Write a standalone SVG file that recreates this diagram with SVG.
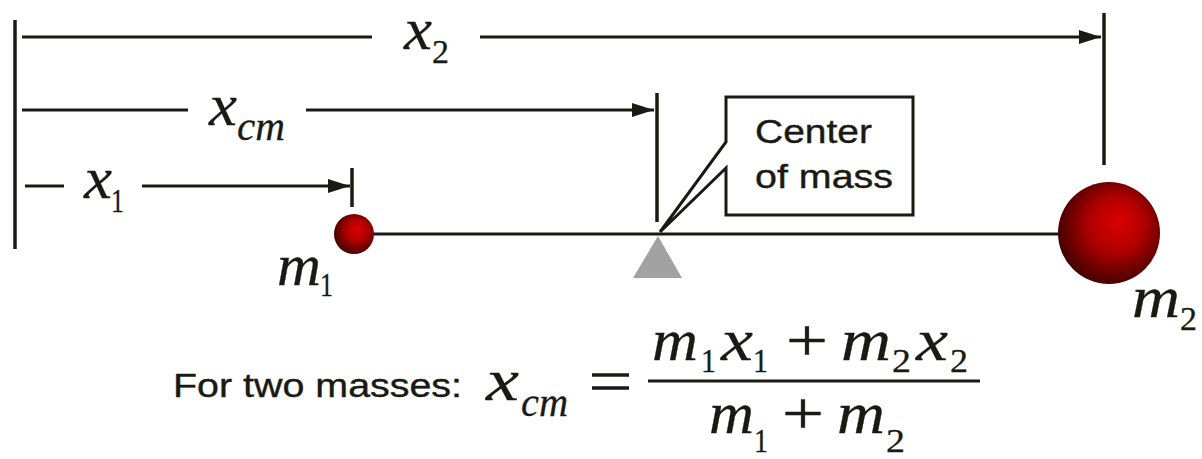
<svg xmlns="http://www.w3.org/2000/svg" width="1202" height="459" viewBox="0 0 1202 459">
<style>
.ln{stroke:#1a1a14;stroke-width:3;fill:none}
.vl{stroke:#1a1a14;stroke-width:3.5;fill:none}
.mi{font-family:"Liberation Serif","Times New Roman",serif;font-style:italic;font-size:59px;fill:#1a1a14;stroke:#1a1a14;stroke-width:0.3}
.sd{font-family:"Liberation Serif","Times New Roman",serif;font-size:34px;fill:#1a1a14;stroke:#1a1a14;stroke-width:0.3}
.si{font-family:"Liberation Serif","Times New Roman",serif;font-style:italic;font-size:40px;fill:#1a1a14;stroke:#1a1a14;stroke-width:0.3}
.op{font-family:"Liberation Serif","Times New Roman",serif;font-size:60px;fill:#1a1a14;stroke:#1a1a14;stroke-width:0.4}
.tx{font-family:"Liberation Sans",Arial,sans-serif;font-size:34px;fill:#1a1a14;stroke:#1a1a14;stroke-width:0.4}
</style>
<defs>
<marker id="ah" markerUnits="userSpaceOnUse" markerWidth="22" markerHeight="14" refX="22" refY="7" orient="auto">
<path d="M0,0 L22,7 L0,14 z" fill="#1a1a14"/>
</marker>
<radialGradient id="ball" cx="0.55" cy="0.45" r="0.6" fx="0.6" fy="0.38">
<stop offset="0" stop-color="#dc0000"/>
<stop offset="0.45" stop-color="#b00000"/>
<stop offset="1" stop-color="#380000"/>
</radialGradient>
</defs>
<rect width="1202" height="459" fill="#ffffff"/>

<g id="connectors">
<line class="vl" x1="15" y1="20" x2="15" y2="249"/>
<line class="ln" x1="22" y1="37" x2="372" y2="37"/>
<line class="ln" x1="480" y1="37" x2="1101" y2="37" marker-end="url(#ah)"/>
<line class="vl" x1="1104" y1="13" x2="1104" y2="165"/>
<line class="ln" x1="22" y1="110" x2="188" y2="110"/>
<line class="ln" x1="306" y1="110" x2="654" y2="110" marker-end="url(#ah)"/>
<line class="vl" x1="657" y1="93" x2="657" y2="222"/>
<line class="ln" x1="25" y1="186" x2="64" y2="186"/>
<line class="ln" x1="142" y1="186" x2="350" y2="186" marker-end="url(#ah)"/>
<line class="vl" x1="352" y1="168" x2="352" y2="207"/>
<line id="beam" class="ln" x1="372" y1="234" x2="1060" y2="234"/>
</g>

<g id="label-x2">
<text class="mi" x="404" y="49" textLength="28" lengthAdjust="spacingAndGlyphs">x</text>
<text class="sd" x="432" y="63" textLength="17" lengthAdjust="spacingAndGlyphs">2</text>
</g>
<g id="label-xcm">
<text class="mi" x="209" y="125" textLength="28" lengthAdjust="spacingAndGlyphs">x</text>
<text class="si" x="237" y="140" textLength="48" lengthAdjust="spacingAndGlyphs">cm</text>
</g>
<g id="label-x1">
<text class="mi" x="84" y="198" textLength="28" lengthAdjust="spacingAndGlyphs">x</text>
<text class="sd" x="111" y="212" textLength="13" lengthAdjust="spacingAndGlyphs">1</text>
</g>

<g id="mass1">
<circle cx="354" cy="234" r="20" fill="url(#ball)"/>
<text class="mi" x="277" y="285" textLength="44" lengthAdjust="spacingAndGlyphs">m</text>
<text class="sd" x="320" y="296" textLength="13" lengthAdjust="spacingAndGlyphs">1</text>
</g>

<g id="mass2">
<circle cx="1109" cy="233" r="51" fill="url(#ball)"/>
<text class="mi" x="1132" y="317" textLength="48" lengthAdjust="spacingAndGlyphs">m</text>
<text class="sd" x="1180" y="330" textLength="17" lengthAdjust="spacingAndGlyphs">2</text>
</g>

<g id="fulcrum">
<polygon points="658,236 682,278 633,278" fill="#a2a2a2"/>
</g>

<g id="callout">
<polygon points="726,97 913,97 913,215 726,215 726,168 660,232 726,142" fill="#ffffff" stroke="#1a1a14" stroke-width="3" stroke-linejoin="miter"/>
<text class="tx" x="755" y="143" textLength="117" lengthAdjust="spacingAndGlyphs">Center</text>
<text class="tx" x="755" y="188" textLength="138" lengthAdjust="spacingAndGlyphs">of mass</text>
</g>

<g id="formula">
<text class="tx" x="173" y="397" textLength="289" lengthAdjust="spacingAndGlyphs">For two masses:</text>
<text class="mi" x="486" y="400" textLength="33" lengthAdjust="spacingAndGlyphs">x</text>
<text class="si" x="521" y="416" textLength="47" lengthAdjust="spacingAndGlyphs">cm</text>
<line x1="592" y1="375" x2="629" y2="375" stroke="#1a1a14" stroke-width="3.5"/>
<line x1="592" y1="388" x2="629" y2="388" stroke="#1a1a14" stroke-width="3.5"/>
<line x1="648" y1="381" x2="980" y2="381" stroke="#1a1a14" stroke-width="3"/>
<text class="mi" x="652" y="360" textLength="46" lengthAdjust="spacingAndGlyphs">m</text>
<text class="sd" x="701" y="372" textLength="15" lengthAdjust="spacingAndGlyphs">1</text>
<text class="mi" x="721" y="360" textLength="32" lengthAdjust="spacingAndGlyphs">x</text>
<text class="sd" x="753" y="372" textLength="15" lengthAdjust="spacingAndGlyphs">1</text>
<text class="op" x="786" y="360" textLength="42" lengthAdjust="spacingAndGlyphs">+</text>
<text class="mi" x="841" y="360" textLength="50" lengthAdjust="spacingAndGlyphs">m</text>
<text class="sd" x="892" y="372" textLength="19" lengthAdjust="spacingAndGlyphs">2</text>
<text class="mi" x="916" y="360" textLength="32" lengthAdjust="spacingAndGlyphs">x</text>
<text class="sd" x="950" y="372" textLength="18" lengthAdjust="spacingAndGlyphs">2</text>
<text class="mi" x="709" y="433" textLength="45" lengthAdjust="spacingAndGlyphs">m</text>
<text class="sd" x="754" y="452" textLength="14" lengthAdjust="spacingAndGlyphs">1</text>
<text class="op" x="782" y="433" textLength="42" lengthAdjust="spacingAndGlyphs">+</text>
<text class="mi" x="837" y="433" textLength="48" lengthAdjust="spacingAndGlyphs">m</text>
<text class="sd" x="886" y="452" textLength="19" lengthAdjust="spacingAndGlyphs">2</text>
</g>
</svg>
